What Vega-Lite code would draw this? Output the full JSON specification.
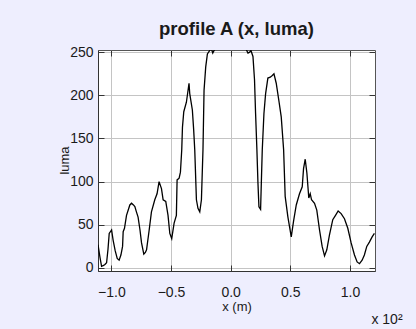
{
  "$schema": "https://vega.github.io/schema/vega-lite/v6.json",
  "width": 277,
  "height": 221,
  "autosize": {"type": "none"},
  "padding": {"left": 98, "top": 50, "right": 41, "bottom": 58},
  "background": "#EEEEFE",
  "title": {"text": "profile A (x, luma)", "font": "Liberation Sans", "fontSize": 18.5, "fontWeight": "bold", "color": "#1a1a1a", "anchor": "middle", "frame": "group", "baseline": "alphabetic", "offset": -8.5},
  "config": {
    "font": "Liberation Sans",
    "view": {"fill": "white", "stroke": "#555555", "strokeWidth": 1}
  },
  "datasets": {
    "profile": [
      {"x": -1.112, "luma": 27}, {"x": -1.095, "luma": 12}, {"x": -1.082, "luma": 2}, {"x": -1.065, "luma": 3},
      {"x": -1.054, "luma": 4}, {"x": -1.04, "luma": 6}, {"x": -1.028, "luma": 22}, {"x": -1.018, "luma": 40},
      {"x": -0.998, "luma": 44}, {"x": -0.985, "luma": 32}, {"x": -0.968, "luma": 20}, {"x": -0.951, "luma": 11},
      {"x": -0.935, "luma": 9}, {"x": -0.92, "luma": 15}, {"x": -0.906, "luma": 25}, {"x": -0.901, "luma": 42},
      {"x": -0.89, "luma": 46}, {"x": -0.873, "luma": 61}, {"x": -0.845, "luma": 73}, {"x": -0.831, "luma": 75},
      {"x": -0.815, "luma": 73}, {"x": -0.803, "luma": 71}, {"x": -0.79, "luma": 65}, {"x": -0.776, "luma": 59},
      {"x": -0.76, "luma": 44}, {"x": -0.747, "luma": 29}, {"x": -0.728, "luma": 16}, {"x": -0.715, "luma": 18},
      {"x": -0.705, "luma": 21}, {"x": -0.683, "luma": 44}, {"x": -0.664, "luma": 65}, {"x": -0.636, "luma": 79},
      {"x": -0.617, "luma": 86}, {"x": -0.6, "luma": 100}, {"x": -0.58, "luma": 92}, {"x": -0.566, "luma": 79},
      {"x": -0.544, "luma": 77}, {"x": -0.525, "luma": 61}, {"x": -0.51, "luma": 40}, {"x": -0.494, "luma": 34},
      {"x": -0.474, "luma": 52}, {"x": -0.455, "luma": 61}, {"x": -0.449, "luma": 102}, {"x": -0.432, "luma": 104},
      {"x": -0.421, "luma": 111}, {"x": -0.41, "luma": 137}, {"x": -0.404, "luma": 163}, {"x": -0.393, "luma": 181},
      {"x": -0.371, "luma": 192}, {"x": -0.349, "luma": 214}, {"x": -0.343, "luma": 202}, {"x": -0.321, "luma": 183},
      {"x": -0.31, "luma": 160}, {"x": -0.301, "luma": 137}, {"x": -0.287, "luma": 79}, {"x": -0.274, "luma": 69},
      {"x": -0.259, "luma": 65}, {"x": -0.245, "luma": 79}, {"x": -0.232, "luma": 137}, {"x": -0.223, "luma": 206},
      {"x": -0.209, "luma": 233}, {"x": -0.195, "luma": 248}, {"x": -0.175, "luma": 252}, {"x": -0.162, "luma": 254},
      {"x": -0.15, "luma": 249}, {"x": -0.135, "luma": 253}, {"x": -0.12, "luma": 255}, {"x": 0.0, "luma": 255},
      {"x": 0.12, "luma": 255}, {"x": 0.131, "luma": 253}, {"x": 0.145, "luma": 249}, {"x": 0.159, "luma": 250},
      {"x": 0.17, "luma": 252}, {"x": 0.187, "luma": 245}, {"x": 0.2, "luma": 218}, {"x": 0.209, "luma": 179},
      {"x": 0.22, "luma": 137}, {"x": 0.229, "luma": 98}, {"x": 0.237, "luma": 71}, {"x": 0.251, "luma": 68},
      {"x": 0.257, "luma": 98}, {"x": 0.265, "luma": 137}, {"x": 0.279, "luma": 179}, {"x": 0.293, "luma": 202},
      {"x": 0.312, "luma": 220}, {"x": 0.332, "luma": 221}, {"x": 0.349, "luma": 223}, {"x": 0.363, "luma": 225},
      {"x": 0.382, "luma": 214}, {"x": 0.404, "luma": 194}, {"x": 0.424, "luma": 175}, {"x": 0.444, "luma": 137},
      {"x": 0.457, "luma": 83}, {"x": 0.48, "luma": 59}, {"x": 0.508, "luma": 36}, {"x": 0.527, "luma": 54},
      {"x": 0.55, "luma": 73}, {"x": 0.577, "luma": 86}, {"x": 0.6, "luma": 94}, {"x": 0.611, "luma": 115},
      {"x": 0.625, "luma": 126}, {"x": 0.639, "luma": 110}, {"x": 0.655, "luma": 81}, {"x": 0.667, "luma": 86},
      {"x": 0.678, "luma": 79}, {"x": 0.703, "luma": 75}, {"x": 0.722, "luma": 67}, {"x": 0.745, "luma": 44},
      {"x": 0.767, "luma": 25}, {"x": 0.787, "luma": 14}, {"x": 0.806, "luma": 21}, {"x": 0.828, "luma": 38},
      {"x": 0.856, "luma": 56}, {"x": 0.879, "luma": 61}, {"x": 0.901, "luma": 66}, {"x": 0.926, "luma": 63},
      {"x": 0.954, "luma": 57}, {"x": 0.982, "luma": 46}, {"x": 1.01, "luma": 29}, {"x": 1.038, "luma": 15},
      {"x": 1.06, "luma": 7}, {"x": 1.08, "luma": 5}, {"x": 1.102, "luma": 9}, {"x": 1.121, "luma": 15},
      {"x": 1.141, "luma": 25}, {"x": 1.163, "luma": 30}, {"x": 1.186, "luma": 36}, {"x": 1.205, "luma": 40}
    ],
    "note": [{"label": "x 10²", "x": 1.21, "luma": -3.5}]
  },
  "layer": [
    {
      "data": {"name": "profile"},
      "mark": {"type": "line", "opacity": 0},
      "encoding": {
        "x": {"field": "x", "type": "quantitative", "scale": {"domain": [-1.112, 1.21], "nice": false, "zero": false},
          "axis": {"orient": "top", "values": [-1, -0.5, 0, 0.5, 1], "labels": false, "domain": false, "grid": false, "tickSize": -6, "tickColor": "#333333", "title": null}},
        "y": {"field": "luma", "type": "quantitative", "scale": {"domain": [-3.5, 252.5], "nice": false, "zero": false},
          "axis": {"orient": "right", "values": [0, 50, 100, 150, 200, 250], "labels": false, "domain": false, "grid": false, "tickSize": -6, "tickColor": "#333333", "title": null}}
      }
    },
    {
      "data": {"name": "profile"},
      "mark": {"type": "line", "color": "black", "strokeWidth": 1.3, "clip": true},
      "encoding": {
        "x": {"field": "x", "type": "quantitative", "scale": {"domain": [-1.112, 1.21], "nice": false, "zero": false},
          "axis": {"orient": "bottom", "values": [-1, -0.5, 0, 0.5, 1], "format": ".1f", "grid": true, "gridColor": "#c4c4c4", "gridOpacity": 1,
            "domainColor": "#333333", "tickColor": "#333333", "tickSize": -6, "labelPadding": 20, "labelFontSize": 14, "labelColor": "#1a1a1a",
            "title": "x (m)", "titleFontSize": 13, "titleFontWeight": "normal", "titleColor": "#1a1a1a", "titleX": 138.5, "titleY": 35, "titleBaseline": "middle", "titleAlign": "center"}},
        "y": {"field": "luma", "type": "quantitative", "scale": {"domain": [-3.5, 252.5], "nice": false, "zero": false},
          "axis": {"orient": "left", "values": [0, 50, 100, 150, 200, 250], "grid": true, "gridColor": "#c4c4c4", "gridOpacity": 1,
            "domainColor": "#333333", "tickColor": "#333333", "tickSize": -6, "labelPadding": 11, "labelFontSize": 14, "labelColor": "#1a1a1a",
            "title": "luma", "titleFontSize": 13, "titleFontWeight": "normal", "titleColor": "#1a1a1a", "titleX": -27, "titleY": 110, "titleAngle": -90, "titleBaseline": "bottom", "titleAlign": "center"}}
      }
    },
    {
      "data": {"name": "note"},
      "mark": {"type": "text", "fontSize": 14, "color": "#1a1a1a", "align": "center", "baseline": "middle", "dx": 12, "dy": 49, "clip": false},
      "encoding": {
        "x": {"field": "x", "type": "quantitative", "scale": {"domain": [-1.112, 1.21], "nice": false, "zero": false}, "axis": null},
        "y": {"field": "luma", "type": "quantitative", "scale": {"domain": [-3.5, 252.5], "nice": false, "zero": false}, "axis": null},
        "text": {"field": "label"}
      }
    }
  ],
  "resolve": {"axis": {"x": "independent", "y": "independent"}}
}
